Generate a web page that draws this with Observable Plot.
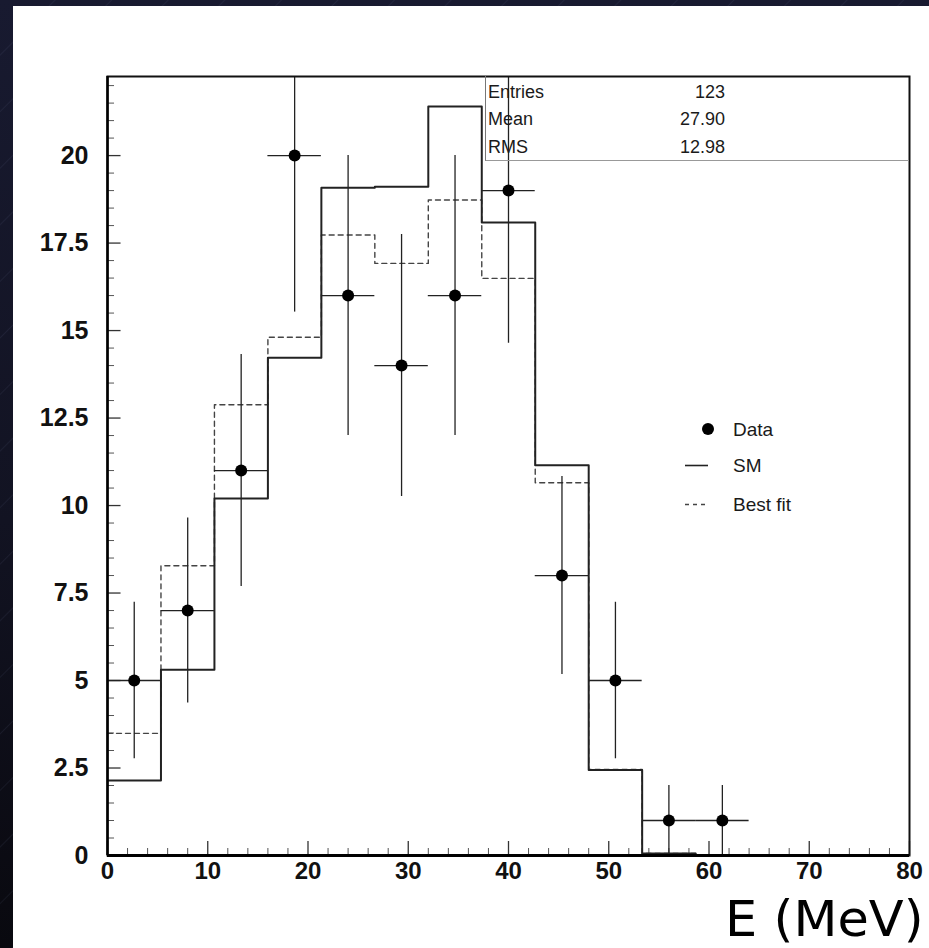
<!DOCTYPE html>
<html><head><meta charset="utf-8">
<script src="https://cdn.jsdelivr.net/npm/d3@7"></script>
<script src="https://cdn.jsdelivr.net/npm/@observablehq/plot@0.6"></script>
<style>
html,body{margin:0;padding:0;}
body{width:929px;height:948px;overflow:hidden;position:relative;
 background:
  repeating-linear-gradient(135deg, rgba(255,255,255,0) 0px, rgba(255,255,255,0) 38px, rgba(120,130,170,0.10) 39px, rgba(255,255,255,0) 40px),
  linear-gradient(180deg,#181a30 0%,#121322 55%,#09090f 100%);
 font-family:"Liberation Sans",Arial,sans-serif;}
#panel{position:absolute;left:13px;top:6px;right:0;bottom:0;background:#fff;}
#chart{position:absolute;left:0;top:0;}
.stat{position:absolute;font-size:18px;line-height:18px;color:#1a1a1a;white-space:nowrap;}
.val{text-align:right;width:125px;}
#statbox{position:absolute;left:485px;top:76px;width:424px;height:85px;border-left:1px solid #777;border-bottom:1px solid #999;box-sizing:border-box;}
.leg{position:absolute;left:733px;font-size:19px;line-height:19px;color:#1a1a1a;white-space:nowrap;}
#legsym{position:absolute;left:0;top:0;}
#xtitle{position:absolute;right:5px;top:894px;font-family:"DejaVu Sans",Verdana,sans-serif;font-size:50px;line-height:50px;color:#000;white-space:nowrap;transform:scaleX(1.02);transform-origin:right center;}
</style>
</head>
<body>
<div id="panel"></div>
<div id="chart"></div>
<div id="statbox"></div>
<div class="stat" style="left:488px;top:83px">Entries</div>
<div class="stat val" style="left:600px;top:83px">123</div>
<div class="stat" style="left:488px;top:110px">Mean</div>
<div class="stat val" style="left:600px;top:110px">27.90</div>
<div class="stat" style="left:488px;top:138px">RMS</div>
<div class="stat val" style="left:600px;top:138px">12.98</div>
<svg id="legsym" width="929" height="948">
  <circle cx="708" cy="429" r="6" fill="#000"/>
  <line x1="685" x2="708" y1="465.5" y2="465.5" stroke="#222" stroke-width="1.6"/>
  <line x1="685" x2="709" y1="504.5" y2="504.5" stroke="#444" stroke-width="1.3" stroke-dasharray="4,4"/>
</svg>
<div class="leg" style="top:419.5px">Data</div>
<div class="leg" style="top:455.5px">SM</div>
<div class="leg" style="top:494.5px">Best fit</div>
<div id="xtitle">E (MeV)</div>
<script>
// ---- data ----
const xMax = 80;
const yMax = 22.26;
const nBins = 15;
const dataCounts = [5, 7, 11, 20, 16, 14, 16, 19, 8, 5, 1, 1, 0, 0, 0];
const smValues   = [2.14, 5.31, 10.2, 14.22, 19.08, 19.11, 21.4, 18.09, 11.15, 2.44, 0.06, 0, 0, 0, 0];
const fitValues  = [3.49, 8.28, 12.88, 14.81, 17.73, 16.92, 18.73, 16.49, 10.65, 2.46, 0.06, 0, 0, 0, 0];
const yTickValues = [0, 2.5, 5, 7.5, 10, 12.5, 15, 17.5, 20];
const yTickLabels = ["0", "2.5", "5", "7.5", "10", "12.5", "15", "17.5", "20"];
const xTickValues = [0, 10, 20, 30, 40, 50, 60, 70, 80];
const xTickLabels = ["0", "10", "20", "30", "40", "50", "60", "70", "80"];

// ---- derived tables ----
const bw = xMax / nBins;
function stepPoints(vals) {
  const pts = [];
  vals.forEach((v, i) => { pts.push({x: i * bw, y: v}); pts.push({x: (i + 1) * bw, y: v}); });
  return pts;
}
const points = dataCounts.map((n, i) => ({x: (i + 0.5) * bw, n})).filter(d => d.n > 0);
const yMinor = d3.range(0, 22.01, 0.5).filter(v => !yTickValues.includes(v));
const xMinor = d3.range(0, 80.01, 2).filter(v => !xTickValues.includes(v));

const plot = Plot.plot({
  width: 929,
  height: 948,
  marginLeft: 107,
  marginRight: 20,
  marginTop: 76,
  marginBottom: 93,
  style: {background: "transparent", overflow: "visible"},
  x: {domain: [0, xMax], axis: null},
  y: {domain: [0, yMax], axis: null},
  marks: [
    Plot.ruleY(yMinor, {y: d => d, x1: () => 0, x2: () => 0.7, stroke: "#555", strokeWidth: 1}),
    Plot.ruleY(yTickValues, {y: d => d, x1: () => 0, x2: () => 1.35, stroke: "#333", strokeWidth: 1.3}),
    Plot.ruleX(xMinor, {x: d => d, y1: () => 0, y2: () => 0.2, stroke: "#555", strokeWidth: 1}),
    Plot.ruleX(xTickValues, {x: d => d, y1: () => 0, y2: () => 0.4, stroke: "#333", strokeWidth: 1.3}),
    Plot.line(stepPoints(fitValues), {x: "x", y: "y", stroke: "#444", strokeWidth: 1.4, strokeDasharray: "5,4", clip: true}),
    Plot.line(stepPoints(smValues), {x: "x", y: "y", stroke: "#222", strokeWidth: 2, clip: true}),
    Plot.ruleX(points, {x: "x", y1: d => Math.max(0, d.n - Math.sqrt(d.n)), y2: d => Math.min(yMax, d.n + Math.sqrt(d.n)), stroke: "#222", strokeWidth: 1.3, clip: true}),
    Plot.ruleY(points, {y: "n", x1: d => d.x - bw / 2, x2: d => d.x + bw / 2, stroke: "#222", strokeWidth: 1.3, clip: true}),
    Plot.dot(points, {x: "x", y: "n", r: 6, fill: "#000", stroke: "none"}),
    Plot.frame({stroke: "#111", strokeWidth: 2}),
    Plot.ruleY([0], {stroke: "#000", strokeWidth: 3}),
    Plot.ruleX([0], {stroke: "#000", strokeWidth: 2.5}),
    Plot.text(yTickValues, {x: () => 0, y: d => d, text: (d, i) => yTickLabels[i], textAnchor: "end", dx: -19, fontSize: 25, fontWeight: "bold", fontFamily: "Liberation Sans, Arial, sans-serif", fill: "#111"}),
    Plot.text(xTickValues, {x: d => d, y: () => 0, text: (d, i) => xTickLabels[i], textAnchor: "middle", dy: 16, fontSize: 24, fontWeight: "bold", fontFamily: "Liberation Sans, Arial, sans-serif", fill: "#111"})
  ]
});
document.getElementById("chart").appendChild(plot);
</script>
</body></html>
